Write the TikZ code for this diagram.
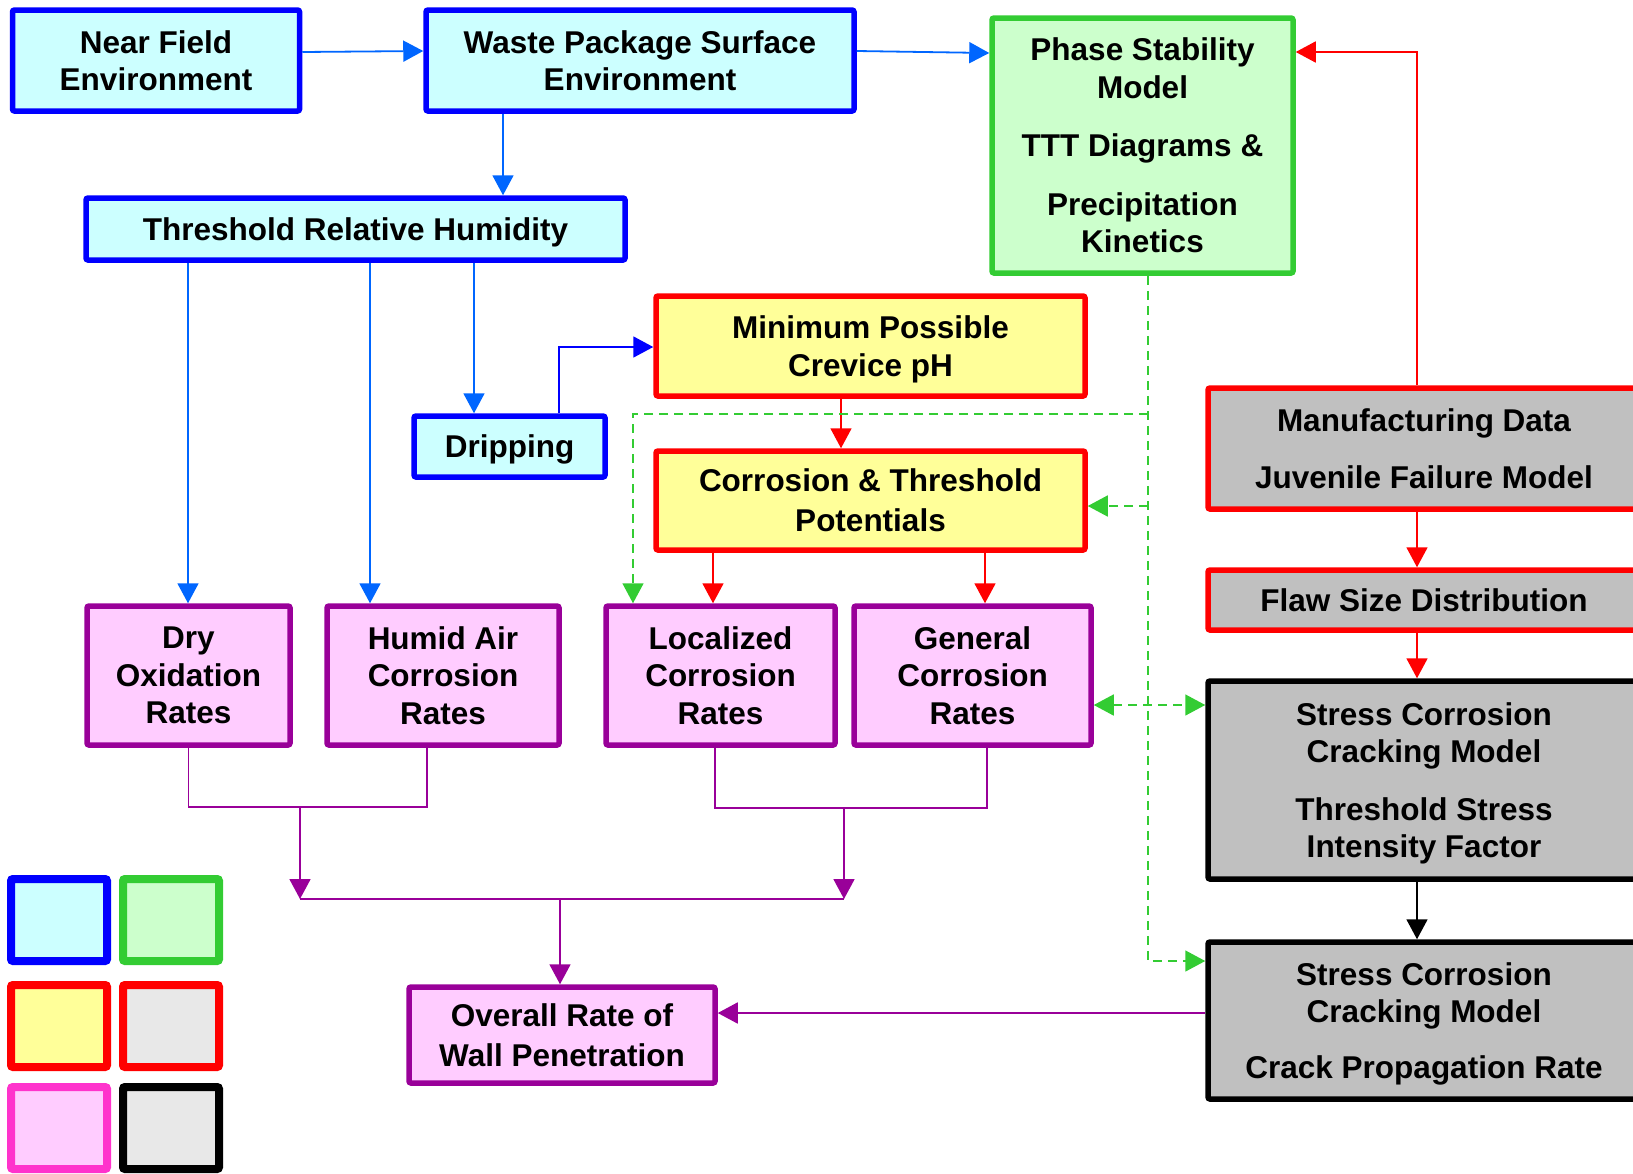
\documentclass[tikz,border=0pt]{standalone}
\usepackage{fontspec}
\setmainfont{Liberation Sans}
\usetikzlibrary{arrows.meta,calc}
\definecolor{cblue}{RGB}{0,0,255}
\definecolor{lblue}{RGB}{0,102,255}
\definecolor{fcyan}{RGB}{204,255,255}
\definecolor{cgreen}{RGB}{51,204,51}
\definecolor{fgreen}{RGB}{204,255,204}
\definecolor{cred}{RGB}{255,0,0}
\definecolor{fyellow}{RGB}{255,255,153}
\definecolor{fgray}{RGB}{192,192,192}
\definecolor{lgray}{RGB}{232,232,232}
\definecolor{cpurple}{RGB}{153,0,153}
\definecolor{fpink}{RGB}{255,204,255}
\definecolor{cpink}{RGB}{255,51,204}
\begin{document}
\begin{tikzpicture}[x=1pt,y=-1pt,
  box/.style={draw, line width=5.5pt, rounded corners=2pt, inner sep=0pt, align=center,
    text depth=0pt, font=\fontsize{31.5pt}{37.5pt}\selectfont\bfseries},
  bluebox/.style={box, draw=cblue, fill=fcyan},
  greenbox/.style={box, draw=cgreen, fill=fgreen},
  yellowbox/.style={box, draw=cred, fill=fyellow},
  redgraybox/.style={box, draw=cred, fill=fgray},
  blackgraybox/.style={box, draw=black, fill=fgray},
  pinkbox/.style={box, draw=cpurple, fill=fpink},
  legendsq/.style={draw, line width=8pt, rounded corners=2pt, inner sep=0pt,
    minimum width=96pt, minimum height=82pt},
  tip/.style={-{Triangle[length=20pt,width=21pt]}},
  conn/.style={line width=1.8pt},
  blarr/.style={conn, tip, draw=lblue},
  dblarr/.style={conn, tip, draw=cblue},
  redarr/.style={conn, tip, draw=cred},
  blkarr/.style={conn, tip, draw=black},
  pline/.style={conn, draw=cpurple},
  parr/.style={conn, tip, draw=cpurple},
  gdash/.style={line width=1.6pt, draw=cgreen, dash pattern=on 9pt off 6pt},
  gtip/.style={-{Triangle[length=20pt,width=21pt,fill=cgreen]}},
  gboth/.style={{Triangle[length=20pt,width=21pt,fill=cgreen]}-{Triangle[length=20pt,width=21pt,fill=cgreen]}}
]
\useasboundingbox (0,0) rectangle (1633,1173);
\clip (0,0) rectangle (1633,1173);

% boxes
\node[bluebox, minimum width=287pt, minimum height=101pt] (nf) at (156,60.5) {Near Field\\Environment};
\node[bluebox, minimum width=428pt, minimum height=101pt] (wp) at (640,60.5) {Waste Package Surface\\Environment};
\node[greenbox, minimum width=301pt, minimum height=255pt] (ps) at (1142.5,145.5)
  {Phase Stability\\Model\\[21pt]TTT Diagrams \&\\[21pt]Precipitation\\Kinetics};
\node[bluebox, minimum width=539pt, minimum height=62pt] (trh) at (355.5,229) {Threshold Relative Humidity};
\node[yellowbox, minimum width=429pt, minimum height=100pt] (mph) at (870.5,346) {Minimum Possible\\Crevice pH};
\node[bluebox, minimum width=191pt, minimum height=61pt] (drip) at (509.5,446.5) {Dripping};
\node[yellowbox, minimum width=429pt, minimum height=99pt] (cth) at (870.5,500.5) {Corrosion \& Threshold\\[2.5pt]Potentials};
\node[redgraybox, minimum width=432pt, minimum height=121pt] (mfg) at (1424,448.5)
  {Manufacturing Data\\[19.5pt]Juvenile Failure Model};
\node[redgraybox, minimum width=432pt, minimum height=60pt] (flaw) at (1424,600) {Flaw Size Distribution};
\node[blackgraybox, minimum width=432pt, minimum height=198pt] (scc1) at (1424,780)
  {Stress Corrosion\\Cracking Model\\[20pt]Threshold Stress\\Intensity Factor};
\node[blackgraybox, minimum width=432pt, minimum height=157pt] (scc2) at (1424,1020.5)
  {Stress Corrosion\\Cracking Model\\[18pt]Crack Propagation Rate};
\node[pinkbox, minimum width=203pt, minimum height=139pt] (dry) at (188.5,675.5) {Dry\\Oxidation\\Rates};
\node[pinkbox, minimum width=232pt, minimum height=139pt] (hum) at (443,675.5) {Humid Air\\Corrosion\\Rates};
\node[pinkbox, minimum width=229pt, minimum height=139pt] (loc) at (720.5,675.5) {Localized\\Corrosion\\Rates};
\node[pinkbox, minimum width=237pt, minimum height=139pt] (gen) at (972.5,675.5) {General\\Corrosion\\Rates};
\node[pinkbox, minimum width=306pt, minimum height=96pt] (ovr) at (562,1035) {Overall Rate of\\[2pt]Wall Penetration};

% legend
\node[legendsq, draw=cblue, fill=fcyan] (lg1) at (59,920) {};
\node[legendsq, draw=cgreen, fill=fgreen] (lg2) at (171,920) {};
\node[legendsq, draw=cred, fill=fyellow] (lg3) at (59,1026) {};
\node[legendsq, draw=cred, fill=lgray] (lg4) at (171,1026) {};
\node[legendsq, draw=cpink, fill=fpink] (lg5) at (59,1128) {};
\node[legendsq, draw=black, fill=lgray] (lg6) at (171,1128) {};

% blue connectors
\draw[blarr] (nf.east |- 0,52) -- (wp.west |- 0,51);
\draw[blarr] (wp.east |- 0,51) -- (ps.west |- 0,53);
\draw[blarr] (wp.south -| 503,0) -- (trh.north -| 503,0);
\draw[blarr] (trh.south -| 188,0) -- (dry.north -| 188,0);
\draw[blarr] (trh.south -| 370,0) -- (hum.north -| 370,0);
\draw[blarr] (trh.south -| 474,0) -- (drip.north -| 474,0);
\draw[dblarr] (drip.north -| 559,0) |- (mph.west |- 0,347);

% red connectors
\draw[redarr] (mph.south -| 841,0) -- (cth.north -| 841,0);
\draw[redarr] (cth.south -| 713,0) -- (loc.north -| 713,0);
\draw[redarr] (cth.south -| 985,0) -- (gen.north -| 985,0);
\draw[redarr] (mfg.north -| 1417,0) |- (ps.east |- 0,52);
\draw[redarr] (mfg.south -| 1417,0) -- (flaw.north -| 1417,0);
\draw[redarr] (flaw.south -| 1417,0) -- (scc1.north -| 1417,0);
\draw[blkarr] (scc1.south -| 1417,0) -- (scc2.north -| 1417,0);

% green dashed connectors
\coordinate (gA) at (1148,414);
\coordinate (gB) at (1148,506);
\coordinate (gC) at (1148,705);
\draw[gdash, gtip] (ps.south -| 1148,0) |- (scc2.west |- 0,961);
\draw[gdash, gtip] (gA) -| (loc.north -| 633,0);
\draw[gdash, gtip] (gB) -- (cth.east |- gB);
\draw[gdash, gboth] (gen.east |- gC) -- (scc1.west |- gC);

% purple connectors
\coordinate (pA) at (300,807);
\coordinate (pB) at (844,808);
\coordinate (pC) at (560,899);
\draw[pline] (dry.south) -- (dry.south |- pA) -- (pA -| 427,0) -- (hum.south -| 427,0);
\draw[pline] (loc.south -| 715,0) -- (715,808) -- (987,808) -- (gen.south -| 987,0);
\draw[parr] (pA) -- (pA |- pC);
\draw[parr] (pB) -- (pB |- pC);
\draw[pline] (pA |- pC) -- (pB |- pC);
\draw[parr] (pC) -- (ovr.north -| pC);
\draw[parr] (scc2.west |- 0,1013) -- (ovr.east |- 0,1013);
\end{tikzpicture}
\end{document}
